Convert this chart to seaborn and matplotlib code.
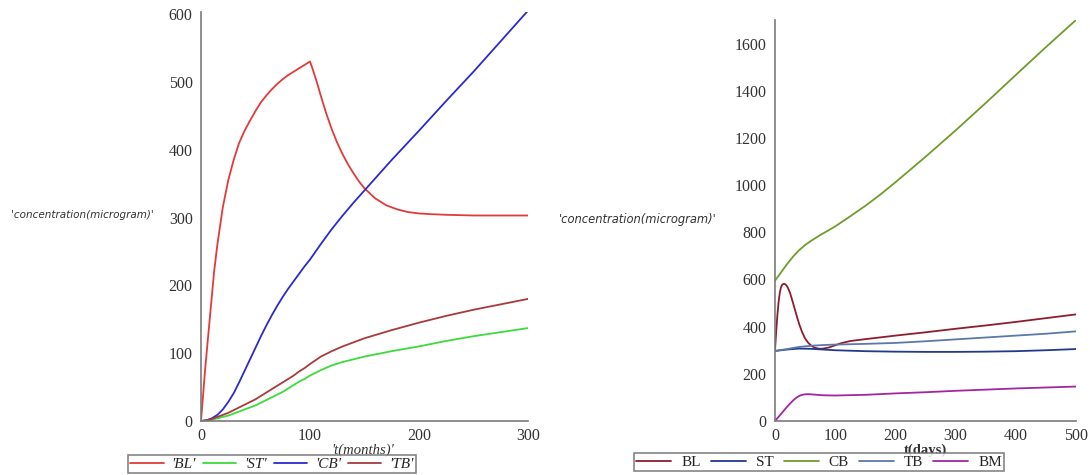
import matplotlib
matplotlib.use("Agg")
import matplotlib.pyplot as plt
from matplotlib.lines import Line2D
from matplotlib.ticker import MultipleLocator
import seaborn as sns
import pandas as pd

# ---------------- data: left panel (months) ----------------
bl_t = [0, 2, 4, 6, 8, 10, 12, 15, 20, 25, 30, 35, 40, 45, 50, 55, 60, 65, 70, 75, 80, 85, 90,
        95, 100, 102, 104, 106, 108, 110, 115, 120, 125, 130, 135, 140, 145, 150, 160, 170,
        180, 190, 200, 210, 225, 250, 275, 300]
bl_v = [0, 40, 80, 115, 150, 185, 220, 260, 315, 355, 385, 410, 428, 443, 457, 470, 480, 489,
        497, 504, 510, 515, 520, 525, 530, 521, 511, 501, 490, 479, 453, 430, 410, 393, 378,
        365, 353, 343, 328, 318, 312, 308, 306, 305, 304, 303, 303, 303]

l_t = [0, 5, 10, 15, 20, 25, 30, 35, 40, 45, 50, 55, 60, 65, 70, 75, 80, 85, 90, 95, 100, 110,
       120, 130, 140, 150, 175, 200, 225, 250, 275, 300]
cb_v = [0, 1, 4, 9, 17, 28, 41, 57, 74, 91, 108, 125, 141, 156, 170, 183, 195, 206, 217, 228,
        238, 261, 283, 303, 322, 340, 385, 428, 472, 515, 560, 605]
tb_v = [0, 1, 3, 6, 9, 12, 16, 20, 24, 28, 32, 37, 42, 47, 52, 57, 62, 67, 73, 78, 84, 95,
        103, 110, 116, 122, 134, 145, 155, 164, 172, 180]
st_v = [0, 1, 2, 4, 6, 8, 11, 14, 17, 20, 23, 27, 31, 35, 39, 43, 48, 53, 58, 62, 67, 75,
        82, 87, 91, 95, 103, 110, 118, 125, 131, 137]

left_names = ["'BL'", "'ST'", "'CB'", "'TB'"]
left_colors = ["#e23a3a", "#3adc3a", "#2a2ad0", "#a83a3a"]

# ---------------- data: right panel (days) ----------------
r_bl_t = [0, 2, 4, 6, 8, 10, 12, 15, 18, 21, 25, 30, 35, 40, 45, 50, 55, 60, 65, 70, 75, 80,
          90, 100, 110, 125, 150, 200, 250, 300, 350, 400, 450, 500]
r_bl_v = [300, 380, 450, 505, 545, 567, 578, 582, 578, 567, 543, 500, 455, 412, 377, 350, 332,
          320, 312, 308, 306, 307, 312, 321, 330, 339, 347, 362, 376, 391, 405, 420, 436, 452]

r_cb_t = [0, 10, 20, 30, 40, 50, 60, 75, 100, 125, 150, 175, 200, 250, 300, 350, 400, 450, 500]
r_cb_v = [595, 630, 665, 697, 724, 746, 764, 788, 825, 868, 912, 960, 1012, 1120, 1232, 1348,
          1467, 1585, 1700]

r_st_t = [0, 20, 40, 60, 80, 100, 150, 200, 250, 300, 350, 400, 450, 500]
r_st_v = [297, 303, 307, 306, 303, 300, 296, 294, 293, 293, 294, 296, 300, 305]

r_tb_t = [0, 20, 40, 60, 80, 100, 150, 200, 250, 300, 350, 400, 450, 500]
r_tb_v = [297, 305, 314, 319, 322, 324, 327, 331, 338, 346, 354, 362, 370, 380]

r_bm_t = [0, 5, 10, 15, 20, 25, 30, 35, 40, 45, 50, 55, 60, 70, 80, 100, 150, 200, 250, 300,
          350, 400, 450, 500]
r_bm_v = [0, 15, 30, 45, 60, 74, 87, 98, 106, 111, 113, 114, 113, 111, 109, 108, 111, 117,
          122, 128, 133, 138, 142, 146]

right_names = ["BL", "ST", "CB", "TB", "BM"]
right_colors = ["#8e1c2e", "#22398c", "#6f9c2c", "#5a78aa", "#a424a4"]

# ---------------- build tables ----------------
def long(tlist, vlist, name):
    return pd.DataFrame({"t": tlist, "v": vlist, "series": name})

left_df = pd.concat([
    long(bl_t, bl_v, left_names[0]),
    long(l_t, st_v, left_names[1]),
    long(l_t, cb_v, left_names[2]),
    long(l_t, tb_v, left_names[3]),
], ignore_index=True)

right_df = pd.concat([
    long(r_bl_t, r_bl_v, right_names[0]),
    long(r_st_t, r_st_v, right_names[1]),
    long(r_cb_t, r_cb_v, right_names[2]),
    long(r_tb_t, r_tb_v, right_names[3]),
    long(r_bm_t, r_bm_v, right_names[4]),
], ignore_index=True)

sns.set_style("white")
plt.rcParams["font.family"] = ["Liberation Serif", "DejaVu Serif"]
plt.rcParams["lines.solid_joinstyle"] = "round"

fig = plt.figure(figsize=(10.9, 4.75), dpi=100)
W, H = 1090, 475
axL = fig.add_axes([201 / W, 1 - 421 / H, (528 - 201) / W, (421 - 12) / H])
axR = fig.add_axes([775 / W, 1 - 421 / H, (1076 - 775) / W, (421 - 20) / H])

sns.lineplot(data=left_df, x="t", y="v", hue="series", hue_order=left_names,
             palette=dict(zip(left_names, left_colors)), estimator=None, sort=False,
             linewidth=1.3, legend=False, ax=axL)
sns.lineplot(data=right_df, x="t", y="v", hue="series", hue_order=right_names,
             palette=dict(zip(right_names, right_colors)), estimator=None, sort=False,
             linewidth=1.3, legend=False, ax=axR)

spine_c = "#7a7a7a"
for ax in (axL, axR):
    ax.set_facecolor("white")
    for s in ("top", "right"):
        ax.spines[s].set_visible(False)
    for s in ("left", "bottom"):
        ax.spines[s].set_color(spine_c)
        ax.spines[s].set_linewidth(1.2)
    ax.tick_params(axis="x", which="both", direction="in", colors=spine_c,
                   labelcolor="#333333", labelsize=11.5, pad=5)
    ax.tick_params(axis="y", which="both", direction="out", colors=spine_c,
                   labelcolor="#333333", labelsize=11.5, pad=1)
    ax.tick_params(which="major", length=5, width=1)
    ax.tick_params(which="minor", length=3, width=1)
    ax.set_xlabel("")
    ax.set_ylabel("")
    ax.margins(0)

axL.set_xlim(0, 300)
axL.set_ylim(0, 603)
axL.xaxis.set_major_locator(MultipleLocator(100))
axL.xaxis.set_minor_locator(MultipleLocator(50))
axL.yaxis.set_major_locator(MultipleLocator(100))
axL.yaxis.set_minor_locator(MultipleLocator(50))

axR.set_xlim(0, 500)
axR.set_ylim(0, 1700)
axR.xaxis.set_major_locator(MultipleLocator(100))
axR.xaxis.set_minor_locator(MultipleLocator(50))
axR.yaxis.set_major_locator(MultipleLocator(200))
axR.yaxis.set_minor_locator(MultipleLocator(100))

# axis labels placed as free text (as in the original layout)
fig.text(82 / W, 1 - 215 / H, "'concentration(microgram)'", ha="center", va="center",
         fontsize=7.5, style="italic", family=["DejaVu Sans"], color="#333333")
fig.text(638 / W, 1 - 219 / H, "'concentration(microgram)'", ha="center", va="center",
         fontsize=8.3, style="italic", family=["DejaVu Sans"], color="#333333")
fig.text(363 / W, 1 - 450 / H, "'t(months)'", ha="center", va="center",
         fontsize=10.5, style="italic", color="#333333")
fig.text(925 / W, 1 - 450 / H, "t(days)", ha="center", va="center",
         fontsize=10.5, weight="bold", color="#333333")

# legends
hL = [Line2D([], [], color=c, lw=1.3) for c in left_colors]
legL = fig.legend(hL, left_names, ncol=4, loc="upper left",
                  bbox_to_anchor=(128 / W, 1 - 455 / H), frameon=True, fancybox=False,
                  edgecolor="#666666", borderpad=0.15, handlelength=2.2,
                  handletextpad=0.5, columnspacing=0.45, borderaxespad=0,
                  prop={"family": "Liberation Serif", "style": "italic", "size": 11})
legL.get_frame().set_linewidth(1.2)

hR = [Line2D([], [], color=c, lw=1.3) for c in right_colors]
legR = fig.legend(hR, right_names, ncol=5, loc="upper left",
                  bbox_to_anchor=(634 / W, 1 - 453 / H), frameon=True, fancybox=False,
                  edgecolor="#666666", borderpad=0.15, handlelength=2.3,
                  handletextpad=0.65, columnspacing=0.65, borderaxespad=0,
                  prop={"family": "Liberation Serif", "size": 11})
legR.get_frame().set_linewidth(1.2)

fig.savefig("out.png", dpi=100, facecolor="white")
